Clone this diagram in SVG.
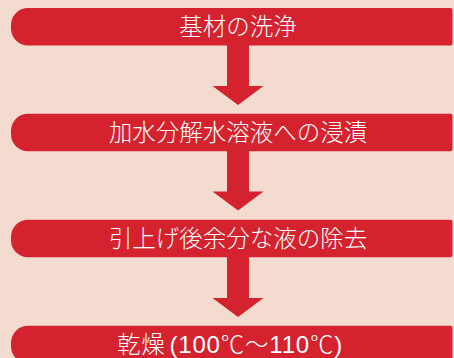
<svg xmlns="http://www.w3.org/2000/svg" width="454" height="358" viewBox="0 0 454 358">
<style>
.box{fill:#d4232f}
.arr{fill:#d4232f}
.t{fill:#ffffff;font-family:"Noto Sans CJK JP","Noto Sans",sans-serif;font-size:23.5px;font-weight:300;text-anchor:middle}
.d{font-family:"Liberation Sans","Noto Sans CJK JP",sans-serif;font-size:24px}
</style>
<defs>
<path id="bx" d="M28,0 H450.5 Q452.5,0 452.5,2 V35.5 Q452.5,37.5 450.5,37.5 H28 A17,17 0 0 1 11,20.5 V17 A17,17 0 0 1 28,0 Z"/>
</defs>
<rect width="454" height="358" fill="#f4dbcf"/>
<g id="connectors">
<path class="arr" d="M227,44 H249 V86 H263.5 L238,105 L212.5,86 H227 Z"/>
<path class="arr" d="M227,150 H249 V191.5 H263.5 L238,210.5 L212.5,191.5 H227 Z"/>
<path class="arr" d="M227,255.5 H249 V298 H263.5 L238,317 L212.5,298 H227 Z"/>
</g>
<g id="n1"><use href="#bx" class="box" y="8"/><text class="t" x="238" y="35">基材の洗浄</text></g>
<g id="n2"><use href="#bx" class="box" y="113.7"/><text class="t" x="238" y="140.7">加水分解水溶液への浸漬</text></g>
<g id="n3"><use href="#bx" class="box" y="219.7"/><text class="t" x="238" y="246.7">引上げ後余分な液の除去</text></g>
<g id="n4"><use href="#bx" class="box" y="325.8"/><text class="t" x="230" y="352.8" letter-spacing="0.8">乾燥<tspan class="d" dx="4">(100</tspan>℃〜<tspan class="d">110</tspan>℃<tspan class="d">)</tspan></text></g>
</svg>
